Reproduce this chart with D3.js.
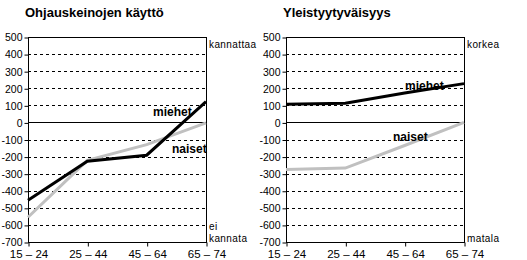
<!DOCTYPE html>
<html>
<head>
<meta charset="utf-8">
<script src="https://cdn.jsdelivr.net/npm/d3@7"></script>
<style>
  body { margin: 0; background: #fff; }
  svg { display: block; font-family: Arial, "Liberation Sans", sans-serif; }
  .grid line { stroke: #000; stroke-dasharray: 3,3; }
  .axis text { font-size: 10.5px; fill: #000; }
  .axis line { stroke: #000; }
  .xaxis text { font-size: 11.5px; }
</style>
</head>
<body>
<svg id="chart" width="527" height="260"></svg>
<script>
// Data
const ikaryhmat = ["15 – 24", "25 – 44", "45 – 64", "65 – 74"];
const yTicks = [500, 400, 300, 200, 100, 0, -100, -200, -300, -400, -500, -600, -700];

// Ohjauskeinojen käyttö
const ohjausMiehet = [-455, -227, -192, 122];
const ohjausNaiset = [-555, -222, -130, -3];

// Yleistyytyväisyys
const yleisMiehet = [106, 112, 172, 227];
const yleisNaiset = [-275, -267, -135, 0];

const svg = d3.select("#chart");

function drawPanel(opts) {
  const x = d3.scalePoint().domain(ikaryhmat).range([opts.left, opts.right]).padding(0);
  const y = d3.scaleLinear().domain([-700, 500]).range([242, 37]);
  const g = svg.append("g");

  // gridlines
  g.append("g").attr("class", "grid")
    .selectAll("line")
    .data(yTicks.filter(d => d !== 500 && d !== -700 && d !== 0))
    .join("line")
    .attr("x1", opts.left).attr("x2", opts.right)
    .attr("y1", d => Math.round(y(d)) + 0.5).attr("y2", d => Math.round(y(d)) + 0.5);

  // zero line
  g.append("line")
    .attr("x1", opts.left).attr("x2", opts.right)
    .attr("y1", Math.round(y(0)) + 0.5).attr("y2", Math.round(y(0)) + 0.5)
    .attr("stroke", "#000");

  // border
  g.append("rect")
    .attr("x", opts.left + 0.5).attr("y", Math.round(y(500)) + 0.5)
    .attr("width", opts.right - opts.left)
    .attr("height", Math.round(y(-700)) - Math.round(y(500)))
    .attr("fill", "none").attr("stroke", "#000");

  // axes
  g.append("g").attr("class", "axis")
    .attr("transform", `translate(${opts.left + 0.5},0.5)`)
    .call(d3.axisLeft(y).tickValues(yTicks).tickSize(4).tickPadding(2).tickFormat(d => String(d)))
    .call(a => a.select(".domain").remove());

  g.append("g").attr("class", "axis xaxis")
    .attr("transform", `translate(0.5,${Math.round(y(-700)) + 0.5})`)
    .call(d3.axisBottom(x).tickSize(4).tickPadding(3))
    .call(a => a.select(".domain").remove());

  const line = d3.line().x((d, i) => x(ikaryhmat[i])).y(d => y(d));

  g.append("path").datum(opts.naiset)
    .attr("d", line).attr("fill", "none")
    .attr("stroke", "#c0c0c0").attr("stroke-width", 3);

  g.append("path").datum(opts.miehet)
    .attr("d", line).attr("fill", "none")
    .attr("stroke", "#000").attr("stroke-width", 3);

  // series labels
  opts.labels.forEach(l => {
    g.append("text")
      .attr("x", l.x).attr("y", l.y)
      .attr("font-size", 12).attr("font-weight", "bold")
      .text(l.text);
  });

  // title
  g.append("text")
    .attr("x", opts.left - 3).attr("y", 17)
    .attr("font-size", 13).attr("font-weight", "bold")
    .text(opts.title);

  // side notes
  opts.notes.forEach(n => {
    g.append("text")
      .attr("x", opts.right + 3).attr("y", n.y)
      .attr("font-size", 10).attr("letter-spacing", 0.4)
      .text(n.text);
  });
}

drawPanel({
  left: 28, right: 206,
  title: "Ohjauskeinojen käyttö",
  miehet: ohjausMiehet, naiset: ohjausNaiset,
  labels: [{ text: "miehet", x: 153, y: 116 }, { text: "naiset", x: 172, y: 153 }],
  notes: [{ text: "kannattaa", y: 48 }, { text: "ei", y: 230 }, { text: "kannata", y: 242 }]
});

drawPanel({
  left: 286, right: 464,
  title: "Yleistyytyväisyys",
  miehet: yleisMiehet, naiset: yleisNaiset,
  labels: [{ text: "miehet", x: 405, y: 90 }, { text: "naiset", x: 393, y: 141 }],
  notes: [{ text: "korkea", y: 48 }, { text: "matala", y: 242 }]
});
</script>
</body>
</html>
